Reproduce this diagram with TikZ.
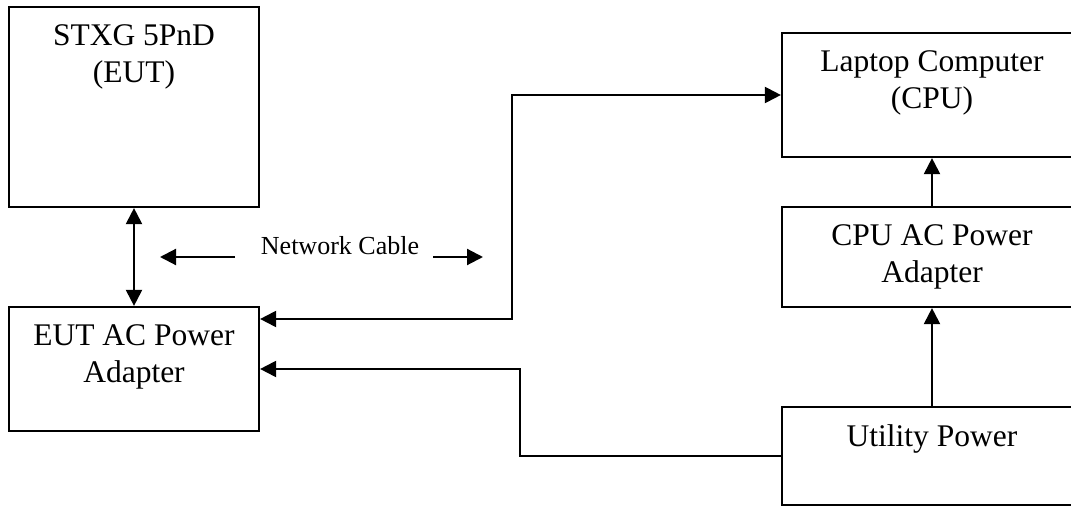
\documentclass[tikz,border=0pt]{standalone}
\usepackage{fontspec}
\setmainfont{Liberation Serif}
\usepackage{tikz}
\usetikzlibrary{positioning,calc,arrows.meta}

\tikzset{
	blk/.style={draw, line width=2.2pt, inner sep=0pt},
	blktxt/.style={align=center, inner sep=0pt, font=\fontsize{31.5}{36.5}\selectfont},
	wire/.style={line width=2.1pt, >={Triangle[length=16pt,width=16pt]}},
}

\begin{document}
\begin{tikzpicture}[x=1pt,y=1pt]
	\useasboundingbox (0,0) rectangle (1071,506);
	\node[blk, minimum width=250pt, minimum height=200pt] (eut) at (134,399) {};
	\node[blk, minimum width=250pt, minimum height=124pt] (eutac) at (134,137) {};
	\node[blk, minimum width=300pt, minimum height=124pt] (laptop) at (932,411) {};
	\node[blk, minimum width=300pt, minimum height=100pt] (cpuac) at (932,249) {};
	\node[blk, minimum width=300pt, minimum height=98pt] (util) at (932,50) {};
	\node[blktxt, below=19pt of eut.north] (eutlbl) {STXG 5PnD\\(EUT)};
	\node[blktxt, below=19pt of eutac.north] (eutaclbl) {EUT AC Power\\Adapter};
	\node[blktxt, below=19pt of laptop.north] (laptoplbl) {Laptop Computer\\(CPU)};
	\node[blktxt, below=19pt of cpuac.north] (cpuaclbl) {CPU AC Power\\Adapter};
	\node[blktxt, below=19pt of util.north] (utillbl) {Utility Power};
	\node[inner sep=0pt, anchor=base, font=\fontsize{26}{30}\selectfont] (netlbl) at (340,251) {Network Cable};
	\coordinate (netLa) at (235,249);
	\coordinate (netLb) at (160,249);
	\coordinate (netRa) at (433,249);
	\coordinate (netRb) at (483,249);
	\coordinate (netbend) at (512,187);
	\coordinate (pwrbend) at (520,50);
	\draw[wire, <->] (eut) -- (eutac);
	\draw[wire, <->] (eutac.east |- netbend) -- (netbend) |- (laptop.west);
	\draw[wire, ->] (util.west) -- (pwrbend) |- (eutac.east);
	\draw[wire, ->] (cpuac) -- (laptop);
	\draw[wire, ->] (util) -- (cpuac);
	\draw[wire, ->] (netLa) -- (netLb);
	\draw[wire, ->] (netRa) -- (netRb);
\end{tikzpicture}
\end{document}
